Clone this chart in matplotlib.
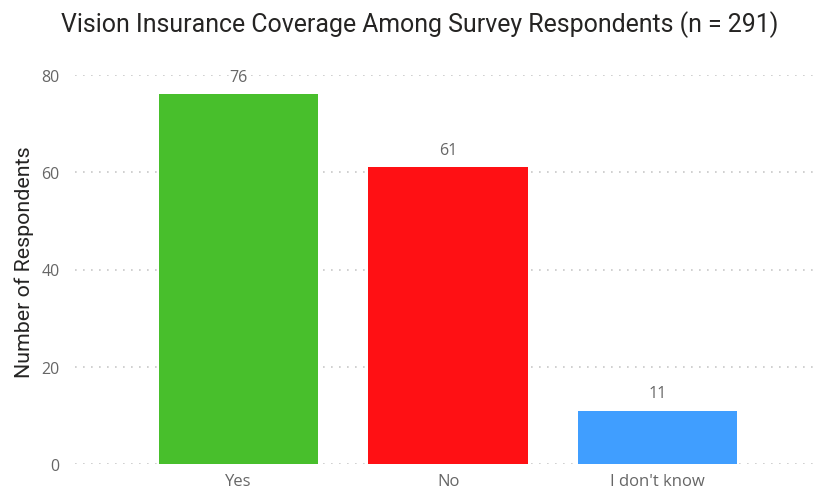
import matplotlib
matplotlib.use("Agg")
import matplotlib.pyplot as plt

categories = ["Yes", "No", "I don't know"]
counts = [76, 61, 11]
colors = ["#48BF2C", "#FF1014", "#409EFF"]
y_ticks = [0, 20, 40, 60, 80]

fig = plt.figure(figsize=(8.17, 4.89), dpi=100)
ax = fig.add_axes([75 / 817, 1 - 465 / 489, 740 / 817, (465 - 76) / 489])

x = list(range(len(categories)))
bars = ax.bar(x, counts, width=0.76, color=colors, zorder=3)

for xi, v in zip(x, counts):
    ax.annotate(str(v), (xi, v), xytext=(0, 7), textcoords="offset points",
                ha="center", va="bottom", fontsize=11.5, color="#666666",
                family="Open Sans")

ax.set_xlim(-0.78, 2.75)
ax.set_ylim(0, 80)
ax.set_yticks(y_ticks)
ax.set_xticks(x)
ax.set_xticklabels(categories)
ax.yaxis.grid(True, linestyle=(0, (1, 3.8)), color="#C8C8C8", linewidth=1.2, zorder=0)
ax.xaxis.grid(False)
for s in ax.spines.values():
    s.set_visible(False)
ax.tick_params(axis="y", length=0, labelsize=11.5, labelcolor="#666666", pad=11)
ax.tick_params(axis="x", length=0, labelsize=12, labelcolor="#666666", pad=6.5)
for lbl in ax.get_xticklabels() + ax.get_yticklabels():
    lbl.set_family("Open Sans")

ax.set_ylabel("Number of Respondents", fontsize=15.4, color="#252423",
              family="Roboto")
ax.yaxis.set_label_coords(-0.055, 0.522)
fig.text(420 / 817, 1 - 25 / 489, "Vision Insurance Coverage Among Survey Respondents (n = 291)",
         ha="center", va="center", fontsize=17.9, color="#252423", family="Roboto")

fig.savefig("out.png", dpi=100, facecolor="white")
